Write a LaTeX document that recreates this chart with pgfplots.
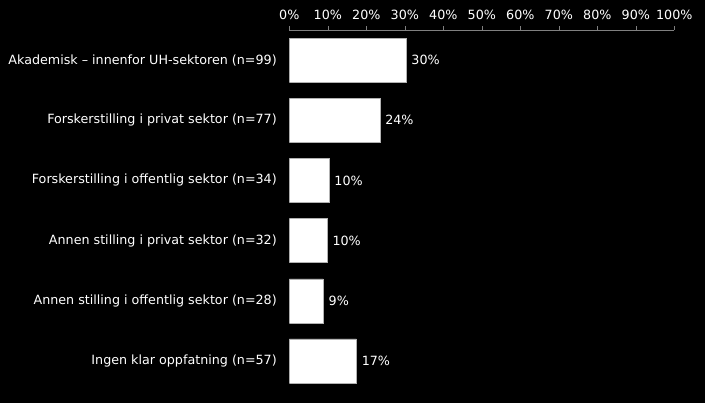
\documentclass[border=0pt]{standalone}
\usepackage{pgfplots}
\pgfplotsset{compat=1.18}
\usepackage{fontspec}
\setmainfont{DejaVu Sans}
\begin{document}
\begin{tikzpicture}[font=\fontsize{12.7}{15}\selectfont]
\useasboundingbox (0,0) rectangle (705pt,403pt);
\fill[black] (0,0) rectangle (705pt,403pt);
\begin{axis}[
  at={(289.3pt,12pt)}, anchor=south west,
  scale only axis, width=385pt, height=361pt,
  xbar, bar width=44pt,
  xmin=0, xmax=100, ymin=-0.5, ymax=5.5, y dir=reverse,
  axis x line*=top, axis y line*=left,
  x axis line style={gray, -},
  y axis line style={draw=none},
  xtick={0,10,...,100},
  xticklabel={\pgfmathprintnumber{\tick}\%},
  ytick={0,1,2,3,4,5},
  yticklabels={Akademisk – innenfor UH-sektoren (n=99),
               Forskerstilling i privat sektor (n=77),
               Forskerstilling i offentlig sektor (n=34),
               Annen stilling i privat sektor (n=32),
               Annen stilling i offentlig sektor (n=28),
               Ingen klar oppfatning (n=57)},
  tick align=outside, major tick length=4pt,
  x tick style={gray},
  y tick style={draw=none},
  ticklabel style={white},
  xticklabel style={yshift=3pt},
  yticklabel style={xshift=-5pt},
  /pgf/number format/assume math mode=true,
  point meta=explicit symbolic,
  nodes near coords,
  nodes near coords style={white, anchor=west, xshift=2pt},
]
\addplot[fill=white, draw=gray!60] coordinates {
  (30.3,0) [30\%]
  (23.5,1) [24\%]
  (10.3,2) [10\%]
  (9.8,3) [10\%]
  (8.8,4) [9\%]
  (17.4,5) [17\%]
};
\end{axis}
\end{tikzpicture}
\end{document}
